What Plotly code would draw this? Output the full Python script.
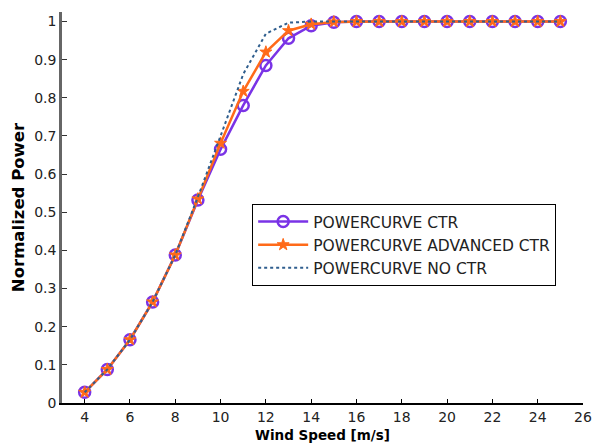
import plotly.graph_objects as go

wind_speed = list(range(4, 26))
ctr = [0.028, 0.088, 0.166, 0.265, 0.388, 0.532, 0.665, 0.780, 0.885, 0.956, 0.989, 0.998,
       1, 1, 1, 1, 1, 1, 1, 1, 1, 1]
advanced_ctr = [0.028, 0.088, 0.166, 0.265, 0.388, 0.535, 0.681, 0.817, 0.920, 0.976, 0.993, 0.999,
                1, 1, 1, 1, 1, 1, 1, 1, 1, 1]
no_ctr = [0.028, 0.088, 0.166, 0.265, 0.388, 0.540, 0.700, 0.862, 0.968, 0.997, 1, 1,
          1, 1, 1, 1, 1, 1, 1, 1, 1, 1]

purple = "#7A33E6"
orange = "#FF6A19"
navy = "#2F5E8E"

fig = go.Figure()
fig.add_trace(go.Scatter(
    x=wind_speed, y=ctr, name="POWERCURVE CTR", mode="lines+markers",
    line=dict(color=purple, width=2.5),
    marker=dict(symbol="circle-open", size=11, color=purple, line=dict(width=2.5, color=purple)),
))
fig.add_trace(go.Scatter(
    x=wind_speed, y=advanced_ctr, name="POWERCURVE ADVANCED CTR", mode="lines+markers",
    line=dict(color=orange, width=2.5),
    marker=dict(symbol="star", size=9, color=orange, line=dict(width=1, color=orange)),
))
fig.add_trace(go.Scatter(
    x=wind_speed, y=no_ctr, name="POWERCURVE NO CTR", mode="lines",
    line=dict(color=navy, width=2, dash="dot"),
))

font = "DejaVu Sans, Liberation Sans, Arial, sans-serif"
fig.update_layout(
    width=593, height=443,
    margin=dict(l=62, r=10, t=12, b=40, autoexpand=False),
    paper_bgcolor="white", plot_bgcolor="white",
    font=dict(family=font, size=14, color="#222"),
    showlegend=True,
    legend=dict(x=0.365, y=0.509, xanchor="left", yanchor="top",
                bordercolor="black", borderwidth=1, bgcolor="white",
                font=dict(size=15.5, color="#222"), tracegroupgap=0,
                itemwidth=50),
    xaxis=dict(
        range=[3, 26], tick0=4, dtick=2, showgrid=False, zeroline=False,
        showline=True, linecolor="black", linewidth=1.5,
        ticks="inside", ticklen=4, tickcolor="black", automargin=False,
        tickfont=dict(size=14),
        title=dict(text="<b>Wind Speed [m/s]</b>", font=dict(size=13.5, color="black"), standoff=7),
    ),
    yaxis=dict(
        range=[0, 1.025], tick0=0, dtick=0.1, showgrid=False, zeroline=False,
        showline=True, linecolor="#666", linewidth=2.5,
        ticks="inside", ticklen=5, tickcolor="#333", automargin=False,
        tickfont=dict(size=14),
        title=dict(text="<b>Normalized Power</b>", font=dict(size=16.5, color="black"), standoff=6),
    ),
)

fig.write_html("out.html", config={"displayModeBar": False},
               post_script="document.body.style.margin='0';document.body.style.overflow='hidden';")
